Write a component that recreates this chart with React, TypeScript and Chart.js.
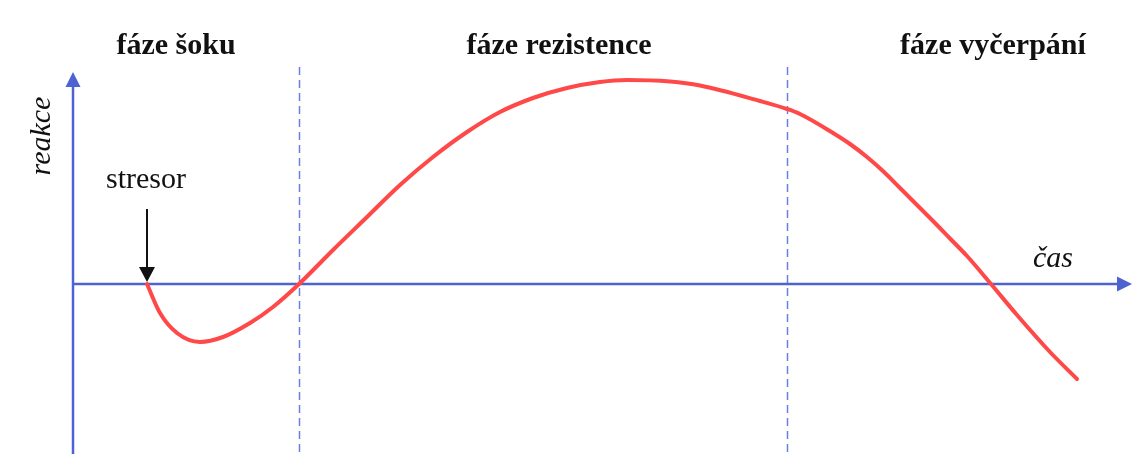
import React, { useEffect, useRef } from "react";
import { Chart, registerables } from "chart.js";

Chart.register(...registerables);

// time (arbitrary units) and reaction (arbitrary units) of the stress curve
const timeValues = [7.4, 8.7, 10.4, 12.7, 15.0, 17.7, 20.0, 22.6, 26.0, 29.4, 32.7, 36.0, 39.4, 42.7, 46.0, 49.4, 52.7, 55.4, 59.7, 62.7, 68.7, 71.4, 72.7, 76.0, 77.7, 79.4, 81.1, 82.7, 86.0, 87.7, 89.4, 91.8, 94.4, 97.7, 100.4];
const reactionValues = [0, -2.9, -4.9, -5.8, -5.3, -3.9, -2.3, 0, 3.4, 6.7, 9.9, 12.7, 15.2, 17.2, 18.6, 19.6, 20.2, 20.4, 20.25, 19.85, 18.3, 17.5, 17.0, 15.1, 14.0, 12.7, 11.2, 9.6, 6.3, 4.55, 2.8, 0, -3.1, -6.8, -9.5];

const phaseBoundaries = [22.6, 71.4];
const phaseLabels = ["fáze šoku", "fáze rezistence", "fáze vyčerpání"];
const phaseLabelCenters = [10.3, 48.6, 92.0];
const stressorTime = 7.4;
const stressorLabel = "stresor";
const xAxisLabel = "čas";
const yAxisLabel = "reakce";

const AXIS_COLOR = "#4d63d2";
const DASH_COLOR = "#6a7fdc";
const CURVE_COLOR = "#ff4848";
const TEXT_COLOR = "#111111";
const FONT = '"Liberation Serif", "Times New Roman", serif';

const diagramPlugin = {
  id: "diagram",
  beforeDatasetsDraw(chart: any) {
    const { ctx, chartArea, scales } = chart;
    const xs = scales.x;
    const ys = scales.y;
    const x0 = xs.getPixelForValue(0);
    const y0 = ys.getPixelForValue(0);
    ctx.save();
    // dashed phase boundaries
    ctx.strokeStyle = DASH_COLOR;
    ctx.lineWidth = 1.5;
    ctx.setLineDash([8, 5]);
    phaseBoundaries.forEach((t) => {
      const px = Math.round(xs.getPixelForValue(t)) + 0.5;
      ctx.beginPath();
      ctx.moveTo(px, chartArea.top - 5);
      ctx.lineTo(px, chartArea.bottom);
      ctx.stroke();
    });
    ctx.setLineDash([]);
    // axes
    ctx.strokeStyle = AXIS_COLOR;
    ctx.fillStyle = AXIS_COLOR;
    ctx.lineWidth = 2.5;
    ctx.beginPath();
    ctx.moveTo(x0, chartArea.bottom);
    ctx.lineTo(x0, chartArea.top + 10);
    ctx.stroke();
    ctx.beginPath();
    ctx.moveTo(x0, y0);
    ctx.lineTo(chartArea.right - 10, y0);
    ctx.stroke();
    // arrowheads
    ctx.beginPath();
    ctx.moveTo(x0, chartArea.top);
    ctx.lineTo(x0 - 7.5, chartArea.top + 15);
    ctx.lineTo(x0 + 7.5, chartArea.top + 15);
    ctx.closePath();
    ctx.fill();
    ctx.beginPath();
    ctx.moveTo(chartArea.right, y0);
    ctx.lineTo(chartArea.right - 15, y0 - 7.5);
    ctx.lineTo(chartArea.right - 15, y0 + 7.5);
    ctx.closePath();
    ctx.fill();
    ctx.restore();
  },
  afterDraw(chart: any) {
    const { ctx, chartArea, scales } = chart;
    const xs = scales.x;
    const ys = scales.y;
    const y0 = ys.getPixelForValue(0);
    ctx.save();
    ctx.fillStyle = TEXT_COLOR;
    ctx.textBaseline = "alphabetic";
    // phase labels
    ctx.font = `bold 30px ${FONT}`;
    ctx.textAlign = "center";
    phaseLabels.forEach((lbl, i) => {
      ctx.fillText(lbl, xs.getPixelForValue(phaseLabelCenters[i]), chartArea.top - 18);
    });
    // stressor label and arrow
    const sx = xs.getPixelForValue(stressorTime);
    ctx.font = `30px ${FONT}`;
    ctx.textAlign = "left";
    ctx.fillText(stressorLabel, sx - 41, y0 - 96);
    ctx.strokeStyle = "#111111";
    ctx.lineWidth = 2;
    ctx.beginPath();
    ctx.moveTo(sx, y0 - 75);
    ctx.lineTo(sx, y0 - 14);
    ctx.stroke();
    ctx.beginPath();
    ctx.moveTo(sx, y0 - 2);
    ctx.lineTo(sx - 8, y0 - 17);
    ctx.lineTo(sx + 8, y0 - 17);
    ctx.closePath();
    ctx.fill();
    // x-axis label
    ctx.font = `italic 30px ${FONT}`;
    ctx.textAlign = "left";
    ctx.fillText(xAxisLabel, chartArea.right - 99, y0 - 17);
    // y-axis label
    ctx.translate(chartArea.left - 23, 136);
    ctx.rotate(-Math.PI / 2);
    ctx.textAlign = "center";
    ctx.fillText(yAxisLabel, 0, 0);
    ctx.restore();
  },
};

export default function App() {
  const canvasRef = useRef<HTMLCanvasElement | null>(null);

  useEffect(() => {
    if (!canvasRef.current) return;
    const data = timeValues.map((t, i) => ({ x: t, y: reactionValues[i] }));
    const chart = new Chart(canvasRef.current, {
      type: "scatter",
      data: {
        datasets: [
          {
            data,
            showLine: true,
            borderColor: CURVE_COLOR,
            borderWidth: 4,
            borderCapStyle: "round",
            borderJoinStyle: "round",
            pointRadius: 0,
            cubicInterpolationMode: "monotone",
            fill: false,
          } as any,
        ],
      },
      options: {
        responsive: false,
        animation: false,
        layout: { padding: { left: 73, right: 4, top: 72, bottom: 0 } },
        scales: {
          x: { type: "linear", min: 0, max: 105.9, display: false },
          y: { type: "linear", min: -17, max: 21.2, display: false },
        },
        plugins: {
          legend: { display: false },
          tooltip: { enabled: false },
        },
      },
      plugins: [diagramPlugin],
    });
    return () => chart.destroy();
  }, []);

  return (
    <div style={{ position: "fixed", left: 0, top: 0, width: 1136, height: 454, background: "#ffffff" }}>
      <canvas ref={canvasRef} width={1136} height={454} style={{ width: 1136, height: 454 }} />
    </div>
  );
}
